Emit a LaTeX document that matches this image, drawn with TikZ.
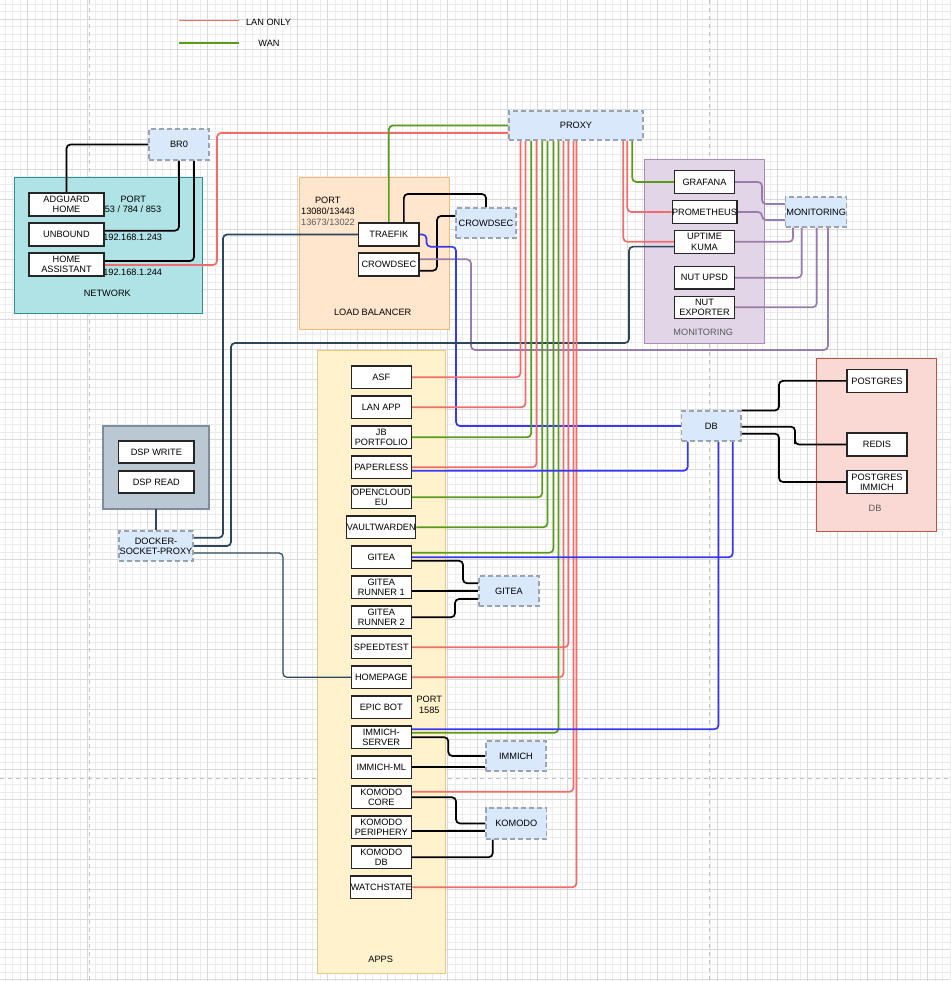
\documentclass[tikz,border=0pt]{standalone}
\usepackage{fontspec}
\setmainfont{Liberation Sans}
\newcommand\dfont{\fontsize{9.2}{10.3}\selectfont}
\definecolor{lanred}{HTML}{EE6E6B}
\definecolor{wangreen}{HTML}{5A9A1C}
\definecolor{dbblue}{HTML}{3838F2}
\definecolor{navyc}{HTML}{2C475C}
\definecolor{monpurple}{HTML}{9A7CAB}
\definecolor{dashfill}{HTML}{DAE8FC}
\definecolor{dashdraw}{HTML}{9AA3B0}
\definecolor{netfill}{HTML}{B0E3E6}
\definecolor{netdraw}{HTML}{2E8F95}
\definecolor{lbfill}{HTML}{FFE6CC}
\definecolor{lbdraw}{HTML}{EDBB78}
\definecolor{monfill}{HTML}{E1D5E7}
\definecolor{mondraw}{HTML}{A88BB6}
\definecolor{dbfill}{HTML}{FAD9D5}
\definecolor{dbdraw}{HTML}{B9574A}
\definecolor{appfill}{HTML}{FFF2CC}
\definecolor{appdraw}{HTML}{E6CB7E}
\definecolor{dspfill}{HTML}{BAC8D3}
\definecolor{dspdraw}{HTML}{7E8D99}
\definecolor{gridmin}{HTML}{ECECEC}
\definecolor{gridmaj}{HTML}{D9D9D9}
\definecolor{pagedash}{HTML}{C4C4C4}
\definecolor{txtgray}{HTML}{5A5A5A}
\tikzset{
  box/.style={draw=black!85, fill=white, line width=1.1pt, minimum width=60pt, minimum height=22.5pt, inner sep=0pt, align=center, font=\dfont},
  dbox/.style={draw=dashdraw, fill=dashfill, dash pattern=on 5pt off 3pt, line width=1.1pt, minimum width=60pt, minimum height=30pt, inner sep=0pt, align=center, font=\dfont},
  grp/.style={line width=1pt, inner sep=0pt, outer sep=0pt},
  txt/.style={inner sep=0pt, align=center, font=\dfont},
  conn/.style={line width=1.7pt, rounded corners=4pt},
  clan/.style={conn, draw=lanred},
  cwan/.style={conn, draw=wangreen},
  cblk/.style={conn, draw=black},
  cblu/.style={conn, draw=dbblue},
  cnav/.style={conn, draw=navyc},
  cmon/.style={conn, draw=monpurple},
}
\begin{document}
\begin{tikzpicture}[x=1pt,y=-1pt]
\useasboundingbox (0,0) rectangle (950,981);
\fill[white] (0,0) rectangle (950,981);
% grid
\foreach \k in {0,...,126} \draw[gridmin, line width=0.6pt] ({4.8+7.5*\k},0) -- ({4.8+7.5*\k},981);
\foreach \k in {0,...,130} \draw[gridmin, line width=0.6pt] (0,{4.3+7.5*\k}) -- (950,{4.3+7.5*\k});
\foreach \k in {0,...,30} \draw[gridmaj, line width=0.8pt] ({27.3+30*\k},0) -- ({27.3+30*\k},981);
\foreach \k in {0,...,32} \draw[gridmaj, line width=0.8pt] (0,{19.3+30*\k}) -- (950,{19.3+30*\k});
\draw[pagedash, line width=1pt, dash pattern=on 4pt off 4pt] (89.5,0) -- (89.5,981);
\draw[pagedash, line width=1pt, dash pattern=on 4pt off 4pt] (709.3,0) -- (709.3,981);
\draw[pagedash, line width=1pt, dash pattern=on 4pt off 4pt] (0,778.3) -- (950,778.3);

% legend
\coordinate (l1a) at (179,20.7); \coordinate (l1b) at (239,20.7);
\coordinate (l2a) at (179,43); \coordinate (l2b) at (239,43);
\draw[clan, line width=1.4pt] (l1a) -- (l1b);
\draw[cwan, line width=1.4pt] (l2a) -- (l2b);
\node[txt] (leglan) at (268.5,22) {LAN ONLY};
\node[txt] (legwan) at (269,43.5) {WAN};

% groups
\node[grp, draw=netdraw, fill=netfill, minimum width=188pt, minimum height=135pt] (network) at (108,245.5) {};
\node[grp, draw=lbdraw, fill=lbfill, minimum width=149.7pt, minimum height=151pt] (lbgrp) at (374.15,253.5) {};
\node[grp, draw=mondraw, fill=monfill, minimum width=120.7pt, minimum height=183pt] (mongrp) at (704.35,251.5) {};
\node[grp, draw=dbdraw, fill=dbfill, minimum width=120pt, minimum height=173.7pt] (dbgrp) at (876.7,444.85) {};
\node[grp, draw=appdraw, fill=appfill, minimum width=128.7pt, minimum height=622.3pt] (appgrp) at (381.35,661.85) {};
\node[grp, draw=dspdraw, fill=dspfill, line width=1.4pt, minimum width=106pt, minimum height=83pt] (dspg) at (156,467.5) {};

% group labels and texts
\node[txt] (netlbl) at (107.3,293.3) {NETWORK};
\node[txt] (lblbl) at (372.7,312.3) {LOAD BALANCER};
\node[txt, text=txtgray] (monlbl) at (703.3,332.3) {MONITORING};
\node[txt, text=txtgray] (dblbl) at (875,508.3) {DB};
\node[txt] (appslbl) at (380.7,959) {APPS};
\node[txt] (netport1) at (133.3,199) {PORT};
\node[txt] (netport2) at (133,209.7) {53 / 784 / 853};
\node[txt] (ip1) at (132.7,237.3) {192.168.1.243};
\node[txt] (ip2) at (132.7,272.7) {192.168.1.244};
\node[txt] (lbport1) at (327.7,200) {PORT};
\node[txt] (lbport2) at (328,211) {13080/13443};
\node[txt, text=txtgray] (lbport3) at (328,222.3) {13673/13022};
\node[txt] (epport1) at (429.3,699.7) {PORT};
\node[txt] (epport2) at (429.3,710.7) {1585};

\def\allnodes{
\node[dbox, minimum height=31pt] (br0) at (179,144.5) {BR0};
\node[box, minimum width=75pt, minimum height=23pt] (adg) at (66.5,204.5) {ADGUARD\\HOME};
\node[box, minimum width=75pt, minimum height=23pt] (unb) at (66.5,234.5) {UNBOUND};
\node[box, minimum width=75pt, minimum height=23pt] (ha) at (66.5,264.5) {HOME\\ASSISTANT};
\node[dbox, minimum width=134pt, minimum height=29pt] (proxy) at (576,125.5) {PROXY};
\node[box, minimum width=60.3pt, minimum height=23pt] (traefik) at (388.85,234.5) {TRAEFIK};
\node[box, minimum width=60.3pt, minimum height=23pt] (cs1) at (388.85,264.5) {CROWDSEC};
\node[dbox] (cs2) at (486,223) {CROWDSEC};
\node[box] (graf) at (704.5,182) {GRAFANA};
\node[box] (prom) at (704.5,212) {PROMETHEUS};
\node[box] (kuma) at (704.5,241.85) {UPTIME\\KUMA};
\node[box] (upsd) at (704.5,277.7) {NUT UPSD};
\node[box] (nexp) at (704.5,307.3) {NUT\\EXPORTER};
\node[dbox, minimum width=61pt] (mon2) at (816.2,212) {MONITORING};
\node[dbox, minimum width=59.3pt] (db) at (711.35,426) {DB};
\node[box, minimum height=23.5pt] (pg) at (877,380.85) {POSTGRES};
\node[box, minimum height=23pt] (redis) at (877,444.5) {REDIS};
\node[box, minimum height=22.6pt] (pgi) at (877,482) {POSTGRES\\IMMICH};
\node[box, minimum width=75.3pt, minimum height=22pt] (dspw) at (156.35,452) {DSP WRITE};
\node[box, minimum width=75.3pt, minimum height=22pt] (dspr) at (156.35,482) {DSP READ};
\node[dbox, minimum width=74pt] (dsp) at (156,546) {DOCKER-\\SOCKET-PROXY};
\node[box] (asf) at (381.3,377.25) {ASF};
\node[box] (lanapp) at (381.3,407.25) {LAN APP};
\node[box] (jb) at (381.3,437.25) {JB\\PORTFOLIO};
\node[box] (pap) at (381.3,467.25) {PAPERLESS};
\node[box] (oc) at (381.3,497.25) {OPENCLOUD\\EU};
\node[box] (vw) at (381.3,527.25) {VAULTWARDEN};
\node[box] (gitea) at (381.3,557.25) {GITEA};
\node[box] (gr1) at (381.3,587.25) {GITEA\\RUNNER 1};
\node[box] (gr2) at (381.3,617.25) {GITEA\\RUNNER 2};
\node[box] (speed) at (381.3,647.25) {SPEEDTEST};
\node[box] (home) at (381.3,677.25) {HOMEPAGE};
\node[box] (epic) at (381.3,707.25) {EPIC BOT};
\node[box] (ims) at (381.3,737.25) {IMMICH-\\SERVER};
\node[box] (iml) at (381.3,767.25) {IMMICH-ML};
\node[box] (kc) at (381.3,797.25) {KOMODO\\CORE};
\node[box] (kp) at (381.3,827.25) {KOMODO\\PERIPHERY};
\node[box] (kdb) at (381.3,857.25) {KOMODO\\DB};
\node[box] (ws) at (381.3,887.25) {WATCHSTATE};
\node[dbox] (gitd) at (509,591) {GITEA};
\node[dbox] (imd) at (516,756) {IMMICH};
\node[dbox, minimum width=60.7pt, minimum height=31pt] (kd) at (516.3,823.5) {KOMODO};
}
% place nodes invisibly so connectors can use their names; draw them again on top afterwards
\begin{scope}[opacity=0]
\allnodes
\end{scope}

% network
\draw[cblk] (br0.west) -| (adg.north);
\draw[cblk] (br0.south) |- ([yshift=3.8pt]unb.east);
\draw[cblk] ([xshift=15pt]br0.south) |- ([yshift=3.5pt]ha.east);
\draw[clan] ([yshift=-0.5pt]ha.east) -| (217,133) -- ([yshift=-7.5pt]proxy.west);

% load balancer
\draw[cwan] (traefik.north) |- (proxy.west);
\draw[cblk] ([xshift=15pt]traefik.north) |- (450,194) -| (cs2.north);
\draw[cblk] ([yshift=-6.2pt]cs1.east) -| (437,216) -- ([yshift=7pt]cs2.west);
\draw[cmon] ([yshift=5.2pt]cs1.east) -| (471,350) -| ([xshift=11.8pt]mon2.south);
\draw[cblu] (traefik.east) -| (426.5,246.7) -| (456,426) -- (db.west);

% docker socket proxy
\draw[cnav] ([yshift=8.3pt]dsp.east) -| (223,300) |- (traefik.west);
\draw[cnav] (dsp.east) -| (231,343) -| (629,300) |- ([yshift=-4.8pt]kuma.west);
\draw[cnav, line width=1.2pt] ([yshift=-7pt]dsp.east) -| (283,600) |- (home.west);
\draw[cnav, line width=1.2pt] (dspg.south) -- (dsp.north);

% proxy to monitoring
\draw[cwan] ([xshift=-11.3pt]proxy.south east) |- (graf.west);
\draw[clan] ([xshift=-16.3pt]proxy.south east) |- (prom.west);
\draw[clan] ([xshift=-20.3pt]proxy.south east) |- (kuma.west);

% monitoring
\draw[cmon] (graf.east) -| (762,204) -- ([yshift=8pt]mon2.west);
\draw[cmon] (prom.east) -| (762,220) -- ([yshift=-8pt]mon2.west);
\draw[cmon] (kuma.east) -| ([xshift=-23.2pt]mon2.south);
\draw[cmon] (upsd.east) -| ([xshift=-14.5pt]mon2.south);
\draw[cmon] (nexp.east) -| ([xshift=0.5pt]mon2.south);

% db
\draw[cblk] (db.north east) -| (779,395) |- (pg.west);
\draw[cblk] ([yshift=-0.7pt]db.east) -| (795,440) |- (redis.west);
\draw[cblk] ([yshift=-7.7pt]db.east) -| (779,460) |- (pgi.west);

% apps to proxy
\draw[clan] (asf.east) -| ([xshift=12pt]proxy.south west);
\draw[clan] (lanapp.east) -| ([xshift=17pt]proxy.south west);
\draw[cwan] (jb.east) -| ([xshift=22.7pt]proxy.south west);
\draw[clan] (pap.east) -| ([xshift=28pt]proxy.south west);
\draw[cwan] (oc.east) -| ([xshift=33.7pt]proxy.south west);
\draw[cwan] (vw.east) -| ([xshift=39pt]proxy.south west);
\draw[cwan] ([yshift=4.5pt]gitea.east) -| ([xshift=45pt]proxy.south west);
\draw[cwan] ([yshift=4.5pt]ims.east) -| ([xshift=50pt]proxy.south west);
\draw[clan] (home.east) -| ([xshift=55pt]proxy.south west);
\draw[clan] (speed.east) -| ([xshift=60pt]proxy.south west);
\draw[clan] ([yshift=5.5pt]kc.east) -| ([xshift=65pt]proxy.south west);
\draw[clan] (ws.east) -| ([xshift=68pt]proxy.south west);

% apps to db
\draw[cblu] ([yshift=-3.5pt]pap.east) -| ([xshift=6.6pt]db.south west);
\draw[cblu] (gitea.east) -| ([xshift=51.6pt]db.south west);
\draw[cblu] ([yshift=8pt]ims.east) -| ([xshift=37.3pt]db.south west);

% gitea
\draw[cblk] ([yshift=-3.5pt]gitea.east) -| (463,583.3) -- ([yshift=7.7pt]gitd.west);
\draw[cblk] ([yshift=-3.75pt]gr1.east) -- (gitd.west);
\draw[cblk] (gr2.east) -| (455,599) -- ([yshift=-8pt]gitd.west);

% immich
\draw[cblk] (ims.east) -| (448.3,756) -- (imd.west);
\path (iml.east) coordinate (imle);
\draw[cblk] (imle) -- (imle -| imd.west);

% komodo
\draw[cblk] (kc.east) -| (456,823.5) -- (kd.west);
\path ([yshift=-3.5pt]kp.east) coordinate (kpe);
\draw[cblk] (kpe) -- (kpe -| kd.west);
\draw[cblk] (kdb.east) -| ([xshift=7.3pt]kd.south west);

% nodes on top
\allnodes
\end{tikzpicture}
\end{document}
